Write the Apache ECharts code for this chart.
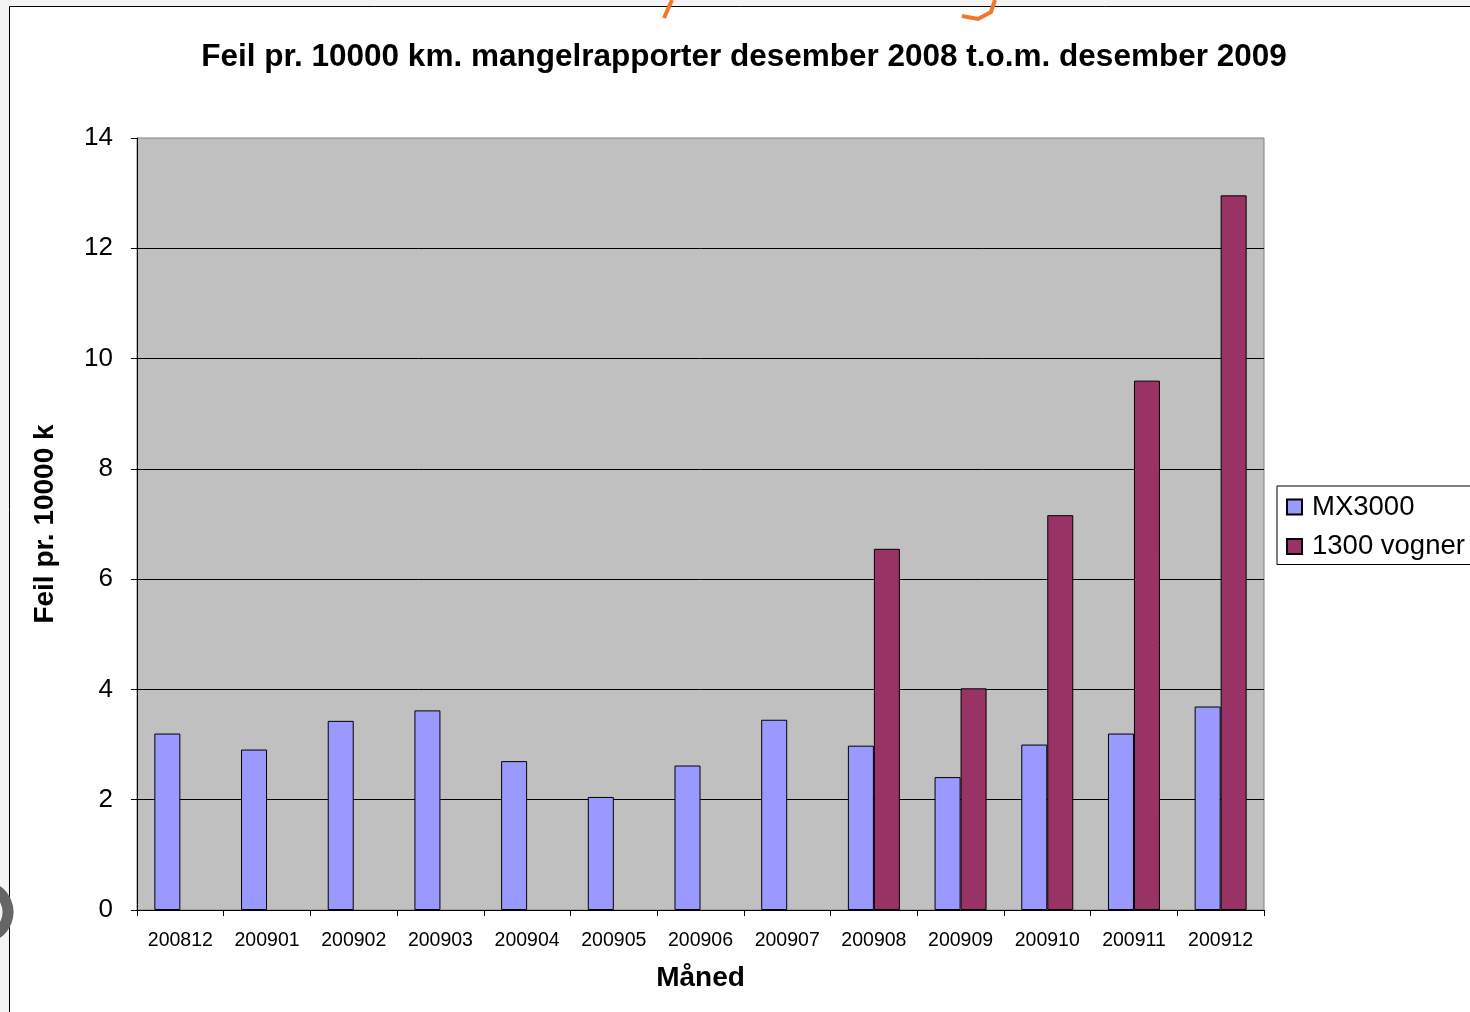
<!DOCTYPE html>
<html>
<head>
<meta charset="utf-8">
<script src="https://cdn.jsdelivr.net/npm/echarts@6/dist/echarts.min.js"></script>
<style>
  html, body { margin: 0; padding: 0; background: #f4f4f4; }
  #chart { width: 1470px; height: 1012px; }
</style>
</head>
<body>
<div id="chart"></div>
<script>
// måneder
var months = ["200812", "200901", "200902", "200903", "200904", "200905", "200906",
  "200907", "200908", "200909", "200910", "200911", "200912"];
// MX3000
var mx3000 = [3.20, 2.91, 3.43, 3.62, 2.70, 2.05, 2.62, 3.45, 2.98, 2.41, 3.00, 3.20, 3.69];
// 1300 vogner (ingen data før august)
var vogner1300 = [null, null, null, null, null, null, null, null, 6.55, 4.02, 7.16, 9.60, 12.96];
var yTicks = { min: 0, max: 14, interval: 2 };

var font = "Liberation Sans, Arial, sans-serif";
var chart = echarts.init(document.getElementById("chart"));
chart.setOption({
  backgroundColor: "#f4f4f4",
  animation: false,
  textStyle: { fontFamily: font },
  graphic: [
    // hvit ramme rundt diagrammet
    { type: "rect", z: -10, shape: { x: 9.5, y: 6.5, width: 1500, height: 1100 },
      style: { fill: "#ffffff", stroke: "#000000", lineWidth: 1 } },
    // rester av lysbildet i kanten
    { type: "arc", z: -5, shape: { cx: -18, cy: 912, r: 26, startAngle: -1.2, endAngle: 1.2 },
      style: { stroke: "#666666", lineWidth: 11, fill: null } },
    { type: "polyline", z: -5, shape: { points: [[672, 0], [664, 18]] },
      style: { stroke: "#f07828", lineWidth: 4 } },
    { type: "polyline", z: -5, shape: { points: [[995, 0], [991, 12], [978, 19], [962, 16]] },
      style: { stroke: "#f07828", lineWidth: 4, fill: null } }
  ],
  title: {
    text: "Feil pr. 10000 km. mangelrapporter desember 2008 t.o.m. desember 2009",
    left: 739,
    textAlign: "center",
    top: 36,
    textStyle: { fontFamily: font, fontSize: 31.5, fontWeight: "bold", color: "#000" }
  },
  legend: {
    orient: "vertical",
    left: 1277,
    top: 486,
    padding: [7, 30, 4, 9],
    itemGap: 11.5,
    itemWidth: 15,
    itemHeight: 15,
    icon: "rect",
    borderColor: "#000",
    borderWidth: 1,
    backgroundColor: "#fff",
    textStyle: { fontFamily: font, fontSize: 27.5, color: "#000", padding: [0, 0, 0, 5] },
    data: ["MX3000", "1300 vogner"]
  },
  grid: {
    left: 137,
    right: 206,
    top: 138,
    bottom: 102,
    show: true,
    backgroundColor: "#c0c0c0",
    borderColor: "#808080",
    borderWidth: 1
  },
  xAxis: {
    type: "category",
    data: months,
    name: "Måned",
    nameLocation: "middle",
    nameGap: 54,
    nameTextStyle: { fontFamily: font, fontSize: 28, fontWeight: "bold", color: "#000" },
    axisLine: { lineStyle: { color: "#000", width: 1 } },
    axisTick: { show: true, length: 6, lineStyle: { color: "#000" } },
    axisLabel: { fontFamily: font, fontSize: 19.5, color: "#000", margin: 21 },
    splitLine: { show: false }
  },
  yAxis: {
    type: "value",
    min: yTicks.min,
    max: yTicks.max,
    interval: yTicks.interval,
    name: "Feil pr. 10000 k",
    nameLocation: "middle",
    nameGap: 78,
    nameTextStyle: { fontFamily: font, fontSize: 28, fontWeight: "bold", color: "#000" },
    axisLine: { show: true, lineStyle: { color: "#000", width: 1 } },
    axisTick: { show: true, length: 6, lineStyle: { color: "#000" } },
    axisLabel: { fontFamily: font, fontSize: 26, color: "#000", margin: 24, padding: [7, 0, 0, 0] },
    splitLine: { show: true, showMaxLine: false, lineStyle: { color: "#000", width: 1 } }
  },
  series: [
    {
      name: "MX3000",
      type: "bar",
      data: mx3000,
      barWidth: 26,
      barGap: "0%",
      itemStyle: { color: "#9999ff", borderColor: "#000", borderWidth: 1 }
    },
    {
      name: "1300 vogner",
      type: "bar",
      data: vogner1300,
      barWidth: 26,
      barGap: "0%",
      itemStyle: { color: "#993366", borderColor: "#000", borderWidth: 1 }
    }
  ]
});
</script>
</body>
</html>
